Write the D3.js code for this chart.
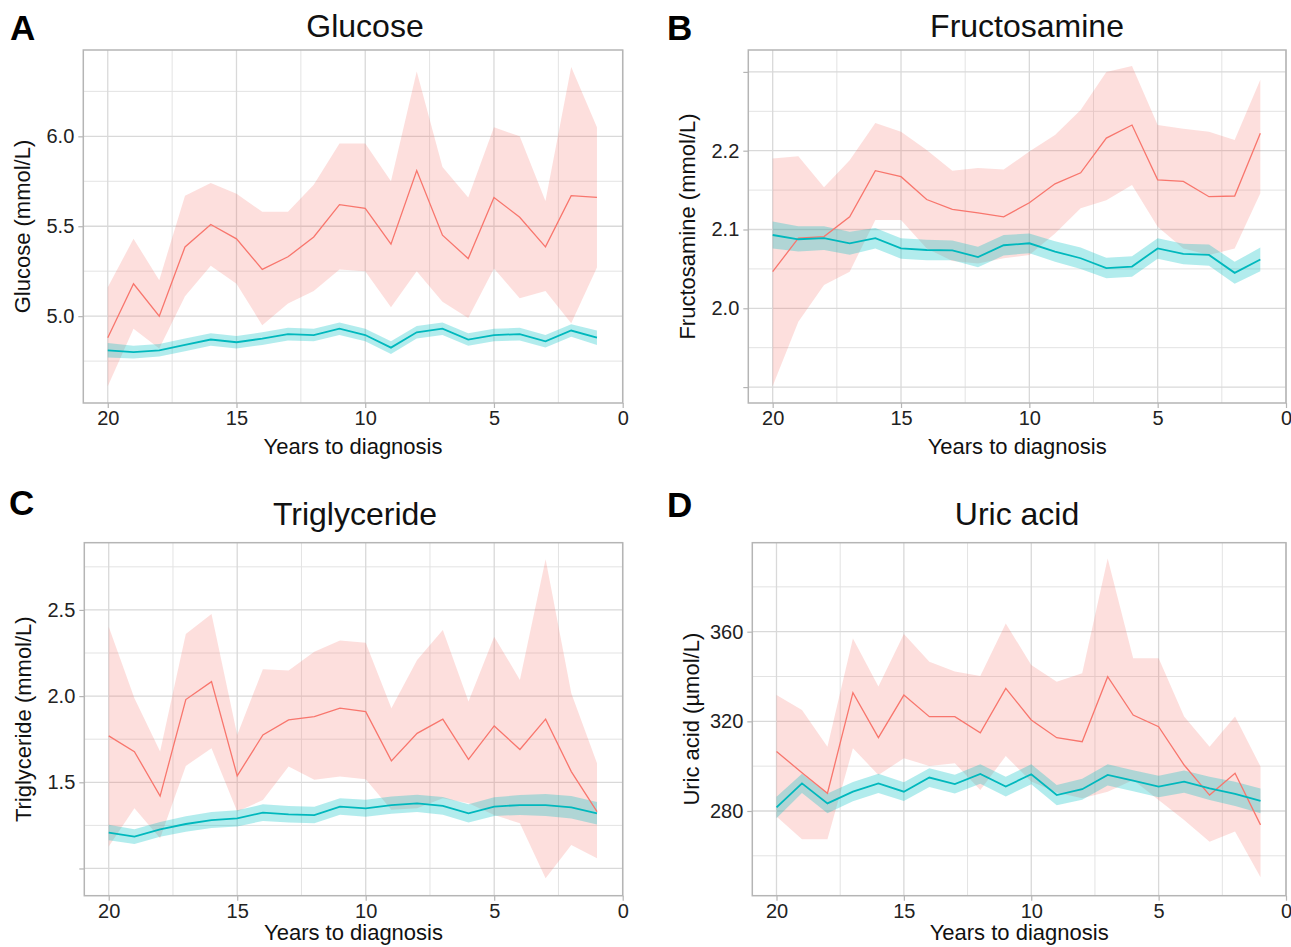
<!DOCTYPE html>
<html><head><meta charset="utf-8">
<script src="https://cdn.jsdelivr.net/npm/d3@7"></script>
<style>
body{margin:0;background:#fff;}
svg{display:block;font-family:"Liberation Sans",Arial,sans-serif;}
</style></head>
<body>
<svg id="chart" width="1291" height="947"></svg>
<script>
// ---------------- DATA ----------------
const years = [20,19,18,17,16,15,14,13,12,11,10,9,8,7,6,5,4,3,2,1];
const xTicks = [20,15,10,5,0];
const xTickLabels = ["20","15","10","5","0"];
const xMinorTicks = [17.5,12.5,7.5,2.5];

// Glucose
const glucoseCase   = [4.88,5.18,5.00,5.385,5.51,5.43,5.26,5.33,5.44,5.62,5.60,5.40,5.81,5.45,5.32,5.66,5.55,5.385,5.67,5.66];
const glucoseCaseHi = [5.16,5.43,5.20,5.67,5.74,5.68,5.58,5.58,5.73,5.96,5.96,5.75,6.36,5.83,5.66,6.05,6.00,5.64,6.385,6.05];
const glucoseCaseLo = [4.61,4.93,4.82,5.11,5.28,5.18,4.95,5.07,5.14,5.26,5.25,5.05,5.25,5.08,4.99,5.265,5.10,5.14,4.96,5.27];
const glucoseCtrl   = [4.81,4.80,4.81,4.84,4.87,4.855,4.875,4.90,4.895,4.93,4.895,4.825,4.91,4.93,4.87,4.895,4.90,4.86,4.92,4.88];
const glucoseCtrlHi = [4.85,4.835,4.845,4.875,4.905,4.89,4.91,4.935,4.93,4.965,4.93,4.86,4.945,4.965,4.905,4.93,4.935,4.895,4.955,4.92];
const glucoseCtrlLo = [4.77,4.765,4.775,4.805,4.835,4.82,4.84,4.865,4.86,4.895,4.86,4.79,4.875,4.895,4.835,4.86,4.865,4.825,4.885,4.84];
const glucoseTicks = [5.0,5.5,6.0];
const glucoseTickLabels = ["5.0","5.5","6.0"];
const glucoseMinor = [4.75,5.25,5.75,6.25];

// Fructosamine
const fructCase   = [2.0465,2.089,2.091,2.116,2.1746,2.167,2.138,2.1256,2.121,2.116,2.134,2.158,2.172,2.216,2.2326,2.163,2.161,2.1416,2.1425,2.222];
const fructCaseHi = [2.190,2.193,2.1535,2.188,2.235,2.224,2.201,2.1746,2.178,2.176,2.199,2.22,2.2517,2.30,2.3075,2.2326,2.228,2.224,2.2136,2.29];
const fructCaseLo = [1.9014,1.983,2.0296,2.0465,2.112,2.112,2.076,2.060,2.057,2.0635,2.0677,2.095,2.127,2.137,2.1565,2.1035,2.076,2.0677,2.076,2.146];
const fructCtrl   = [2.093,2.0876,2.089,2.0825,2.089,2.076,2.074,2.0735,2.065,2.080,2.0825,2.072,2.0635,2.051,2.053,2.076,2.069,2.0677,2.045,2.062];
const fructCtrlHi = [2.110,2.104,2.104,2.097,2.102,2.089,2.087,2.086,2.078,2.093,2.095,2.085,2.077,2.064,2.066,2.089,2.082,2.081,2.059,2.077];
const fructCtrlLo = [2.076,2.072,2.074,2.068,2.076,2.063,2.061,2.061,2.052,2.067,2.070,2.059,2.050,2.038,2.040,2.063,2.056,2.054,2.031,2.047];
const fructTicks = [1.9,2.0,2.1,2.2,2.3];
const fructTickLabels = ["","2.0","2.1","2.2",""];
const fructMinor = [1.95,2.05,2.15,2.25];

// Triglyceride
const trigCase   = [1.769,1.678,1.42,1.98,2.084,1.537,1.775,1.862,1.881,1.93,1.91,1.624,1.784,1.866,1.633,1.827,1.69,1.866,1.562,1.33];
const trigCaseHi = [2.403,1.987,1.678,2.36,2.477,1.775,2.156,2.148,2.258,2.322,2.31,1.93,2.21,2.384,1.968,2.345,2.094,2.794,2.016,1.61];
const trigCaseLo = [1.127,1.349,1.175,1.595,1.697,1.33,1.397,1.591,1.514,1.533,1.517,1.34,1.349,1.407,1.378,1.31,1.262,0.943,1.136,1.059];
const trigCtrl   = [1.208,1.185,1.227,1.258,1.281,1.291,1.324,1.314,1.31,1.359,1.349,1.368,1.378,1.363,1.32,1.359,1.368,1.368,1.355,1.32];
const trigCtrlHi = [1.253,1.228,1.27,1.303,1.327,1.338,1.372,1.362,1.358,1.407,1.398,1.418,1.428,1.415,1.373,1.413,1.426,1.432,1.42,1.385];
const trigCtrlLo = [1.163,1.142,1.184,1.213,1.235,1.244,1.276,1.266,1.262,1.311,1.30,1.318,1.328,1.311,1.267,1.305,1.31,1.304,1.29,1.255];
const trigTicks = [1.0,1.5,2.0,2.5];
const trigTickLabels = ["","1.5","2.0","2.5"];
const trigMinor = [1.25,1.75,2.25,2.75];

// Uric acid
const uricCase   = [306.5,297.1,287.9,332.8,312.7,331.7,322.1,322.1,314.9,334.7,320.6,312.7,310.9,339.9,322.8,317.6,300.5,287.1,296.8,273.8];
const uricCaseHi = [331.7,325.1,308.7,357.0,335.5,359.0,346.6,342.2,340.2,363.7,345.1,337.7,341.4,392.7,348.1,348.1,322.1,308.7,322.1,299.8];
const uricCaseLo = [277.5,267.4,267.4,308.0,296.1,303.5,300.1,301.3,289.4,304.5,293.1,288.2,285.7,288.6,293.8,284.9,276.0,266.3,270.8,250.4];
const uricCtrl   = [281.6,292.3,283.4,288.6,292.3,288.6,294.9,292.0,296.5,290.9,296.4,287.1,289.7,296.1,293.5,290.9,293.1,290.1,287.6,284.5];
const uricCtrlHi = [286.4,296.6,287.8,292.9,296.6,292.8,299.1,296.2,300.8,295.3,300.9,291.6,294.4,300.8,298.2,295.7,298.1,295.3,293.0,290.0];
const uricCtrlLo = [276.8,288.0,279.0,284.3,288.0,284.4,290.7,287.8,292.2,286.5,291.9,282.6,285.0,291.4,288.8,286.1,288.1,284.9,282.2,279.0];
const uricTicks = [280,320,360];
const uricTickLabels = ["280","320","360"];
const uricMinor = [260,300,340,380];

// ---------------- LAYOUT ----------------
const panels = [
  {letter:"A", title:"Glucose", ylab:"Glucose (mmol/L)", box:[83.3,622.7,50,403], yDom:[4.517,6.48],
   titleX:365, titleY:37, letterX:10, letterY:40, xlabY:454,
   caseM:glucoseCase, caseHi:glucoseCaseHi, caseLo:glucoseCaseLo, ctrlM:glucoseCtrl, ctrlHi:glucoseCtrlHi, ctrlLo:glucoseCtrlLo,
   ticks:glucoseTicks, tickLabels:glucoseTickLabels, minor:glucoseMinor},
  {letter:"B", title:"Fructosamine", ylab:"Fructosamine (mmol/L)", box:[748.3,1286,50,403], yDom:[1.8798,2.3278],
   titleX:1027, titleY:37, letterX:667, letterY:40, xlabY:454,
   caseM:fructCase, caseHi:fructCaseHi, caseLo:fructCaseLo, ctrlM:fructCtrl, ctrlHi:fructCtrlHi, ctrlLo:fructCtrlLo,
   ticks:fructTicks, tickLabels:fructTickLabels, minor:fructMinor},
  {letter:"C", title:"Triglyceride", ylab:"Triglyceride (mmol/L)", box:[84.3,622.7,542.7,895.7], yDom:[0.842,2.89],
   titleX:355, titleY:525, letterX:9, letterY:515, xlabY:940,
   caseM:trigCase, caseHi:trigCaseHi, caseLo:trigCaseLo, ctrlM:trigCtrl, ctrlHi:trigCtrlHi, ctrlLo:trigCtrlLo,
   ticks:trigTicks, tickLabels:trigTickLabels, minor:trigMinor},
  {letter:"D", title:"Uric acid", ylab:"Uric acid (\u00b5mol/L)", box:[752.3,1286,542.7,895.7], yDom:[242.2,399.7],
   titleX:1017, titleY:525, letterX:667, letterY:517, xlabY:940,
   caseM:uricCase, caseHi:uricCaseHi, caseLo:uricCaseLo, ctrlM:uricCtrl, ctrlHi:uricCtrlHi, ctrlLo:uricCtrlLo,
   ticks:uricTicks, tickLabels:uricTickLabels, minor:uricMinor}
];

const RED = "#F8766D", TEAL = "#00BFC4";
const svg = d3.select("#chart");
svg.append("rect").attr("width",1291).attr("height",947).attr("fill","#fff");

panels.forEach(p => {
  const [L,R,T,B] = p.box;
  const x = d3.scaleLinear().domain([20.95,0]).range([L,R]);
  const y = d3.scaleLinear().domain(p.yDom).range([B,T]);
  const g = svg.append("g");

  // minor grid
  g.selectAll(".ym").data(p.minor).join("line")
    .attr("x1",L).attr("x2",R).attr("y1",d=>y(d)).attr("y2",d=>y(d))
    .attr("stroke","#e3e3e3").attr("stroke-width",1);
  g.selectAll(".xm").data(xMinorTicks).join("line")
    .attr("x1",d=>x(d)).attr("x2",d=>x(d)).attr("y1",T).attr("y2",B)
    .attr("stroke","#e3e3e3").attr("stroke-width",1);
  // major grid
  g.selectAll(".yM").data(p.ticks).join("line")
    .attr("x1",L).attr("x2",R).attr("y1",d=>y(d)).attr("y2",d=>y(d))
    .attr("stroke","#d9d9d9").attr("stroke-width",1.3);
  g.selectAll(".xM").data(xTicks).join("line")
    .attr("x1",d=>x(d)).attr("x2",d=>x(d)).attr("y1",T).attr("y2",B)
    .attr("stroke","#d9d9d9").attr("stroke-width",1.3);

  const idx = d3.range(years.length);
  const area = (hi,lo) => d3.area().x(i=>x(years[i])).y0(i=>y(lo[i])).y1(i=>y(hi[i]))(idx);
  const line = (m) => d3.line().x(i=>x(years[i])).y(i=>y(m[i]))(idx);

  g.append("path").attr("d",area(p.caseHi,p.caseLo)).attr("fill",RED).attr("fill-opacity",0.23);
  g.append("path").attr("d",area(p.ctrlHi,p.ctrlLo)).attr("fill",TEAL).attr("fill-opacity",0.3);
  g.append("path").attr("d",line(p.caseM)).attr("fill","none").attr("stroke",RED).attr("stroke-width",1.3);
  g.append("path").attr("d",line(p.ctrlM)).attr("fill","none").attr("stroke","#00B8BD").attr("stroke-width",1.8);

  // border
  g.append("rect").attr("x",L).attr("y",T).attr("width",R-L).attr("height",B-T)
    .attr("fill","none").attr("stroke","#b5b5b5").attr("stroke-width",1.5);

  // axes
  const yAxis = d3.axisLeft(y).tickValues(p.ticks).tickSize(5).tickPadding(4)
    .tickFormat((d,i)=>p.tickLabels[i]);
  const ya = g.append("g").attr("transform",`translate(${L},0)`).call(yAxis);
  const xAxis = d3.axisBottom(x).tickValues(xTicks).tickSize(5).tickPadding(3)
    .tickFormat((d,i)=>xTickLabels[i]);
  const xa = g.append("g").attr("transform",`translate(0,${B})`).call(xAxis);
  [ya,xa].forEach(a=>{
    a.select(".domain").remove();
    a.selectAll(".tick line").attr("stroke","#b5b5b5").attr("stroke-width",1.2);
    a.selectAll(".tick text").attr("fill","#222").style("font-size","20px")
      .style("font-family","'Liberation Sans',Arial,sans-serif");
  });

  // titles and labels
  g.append("text").attr("x",p.titleX).attr("y",p.titleY).attr("text-anchor","middle")
    .style("font-size","32px").attr("fill","#111").text(p.title);
  g.append("text").attr("x",p.letterX).attr("y",p.letterY)
    .style("font-size","35px").style("font-weight","bold").attr("fill","#000").text(p.letter);
  g.append("text").attr("x",(L+R)/2).attr("y",p.xlabY).attr("text-anchor","middle")
    .style("font-size","22px").attr("fill","#111").text("Years to diagnosis");
  g.append("text").attr("transform",`translate(${L-61},${(T+B)/2}) rotate(-90)`)
    .attr("text-anchor","middle").attr("dy","0.35em")
    .style("font-size","22px").attr("fill","#111").text(p.ylab);
});
</script>
</body></html>
